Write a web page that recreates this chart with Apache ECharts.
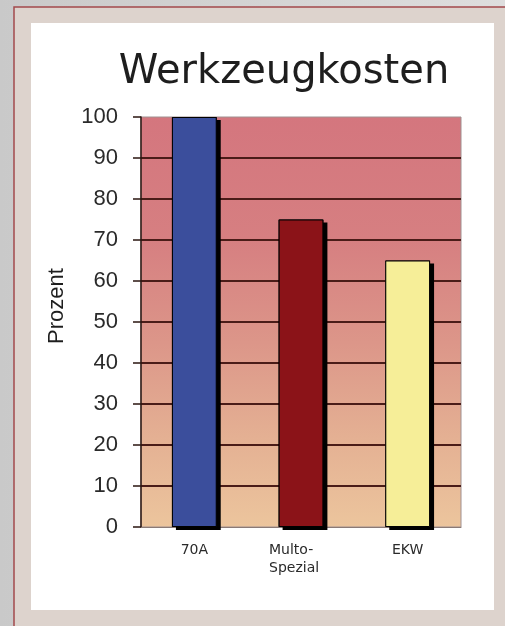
<!DOCTYPE html>
<html>
<head>
<meta charset="utf-8">
<script src="https://cdn.jsdelivr.net/npm/echarts@6/dist/echarts.min.js"></script>
<style>
  html, body { margin: 0; padding: 0; }
  #main { width: 505px; height: 626px; }
</style>
</head>
<body>
<div id="main"></div>
<script>
const categories = ['70A', 'Multo-\nSpezial', 'EKW'];
const values = [100, 75, 65];
const barColors = ['#3b4e9c', '#8b1318', '#f6ee98'];
const yTicks = [0, 10, 20, 30, 40, 50, 60, 70, 80, 90, 100];

const chart = echarts.init(document.getElementById('main'), null, { renderer: 'canvas' });

const option = {
  backgroundColor: new echarts.graphic.LinearGradient(0, 0, 1, 0, [
    { offset: 0, color: '#c9c9c9' },
    { offset: 1, color: '#dedede' }
  ]),
  graphic: [
    // frame + beige mat
    {
      type: 'rect', z: -10, silent: true,
      shape: { x: 14, y: 7, width: 500, height: 630 },
      style: { fill: '#ddd3cd', stroke: '#a34a4c', lineWidth: 1.5 }
    },
    // white card
    {
      type: 'rect', z: -9, silent: true,
      shape: { x: 31, y: 23, width: 463, height: 587 },
      style: { fill: '#ffffff' }
    }
  ],
  title: {
    text: 'Werkzeugkosten',
    left: 279,
    textAlign: 'center',
    top: 48,
    textStyle: {
      fontFamily: 'DejaVu Sans',
      fontSize: 40,
      fontWeight: 'normal',
      color: '#1e1e1e'
    }
  },
  grid: {
    left: 141,
    top: 117,
    width: 320,
    height: 410,
    show: true,
    borderColor: '#a09090',
    borderWidth: 1,
    backgroundColor: new echarts.graphic.LinearGradient(0, 0, 0, 1, [
      { offset: 0, color: '#d4767e' },
      { offset: 0.3, color: '#d67f81' },
      { offset: 0.55, color: '#dc9689' },
      { offset: 0.78, color: '#e4b093' },
      { offset: 1, color: '#ecc59d' }
    ])
  },
  xAxis: {
    type: 'category',
    data: categories,
    axisLine: { show: true, lineStyle: { color: '#8a7a76', width: 1 } },
    axisTick: { show: false },
    axisLabel: {
      margin: 14,
      fontFamily: 'DejaVu Sans',
      fontSize: 14,
      color: '#2a2a2a',
      lineHeight: 18,
      formatter: function (v) {
        if (v.indexOf('\n') < 0) return v;
        return v.split('\n').map(s => '{l|' + s + '}').join('\n');
      },
      rich: {
        l: { width: 64, align: 'left', fontFamily: 'DejaVu Sans', fontSize: 14, color: '#2a2a2a', lineHeight: 18 }
      }
    }
  },
  yAxis: {
    type: 'value',
    min: yTicks[0],
    max: yTicks[yTicks.length - 1],
    interval: 10,
    name: 'Prozent',
    nameLocation: 'middle',
    nameGap: 73,
    nameTextStyle: {
      fontFamily: 'Liberation Sans',
      fontSize: 22,
      color: '#1e1e1e',
      padding: [0, 0, 0, 32]
    },
    axisLine: { show: true, lineStyle: { color: '#2a1610', width: 1.5 } },
    axisTick: { show: true, length: 8, lineStyle: { color: '#2a1610', width: 1.5 } },
    axisLabel: {
      margin: 23,
      fontFamily: 'Liberation Sans',
      fontSize: 22,
      color: '#2a2a2a'
    },
    splitLine: {
      show: true,
      showMinLine: false,
      showMaxLine: false,
      lineStyle: { color: '#4a1c18', width: 2 }
    }
  },
  series: [
    // drop shadow behind each bar
    {
      type: 'bar',
      barWidth: '42%',
      barGap: '-100%',
      data: values,
      z: 2,
      silent: true,
      itemStyle: {
        color: '#000',
        shadowColor: '#000',
        shadowBlur: 0,
        shadowOffsetX: 4,
        shadowOffsetY: 3
      },
      emphasis: { disabled: true }
    },
    {
      type: 'bar',
      barWidth: '42%',
      barGap: '-100%',
      z: 3,
      data: values.map((v, i) => ({ value: v, itemStyle: { color: barColors[i] } })),
      itemStyle: {
        borderColor: '#000',
        borderWidth: 1
      },
      emphasis: { disabled: true }
    }
  ]
};

chart.setOption(option);
</script>
</body>
</html>
